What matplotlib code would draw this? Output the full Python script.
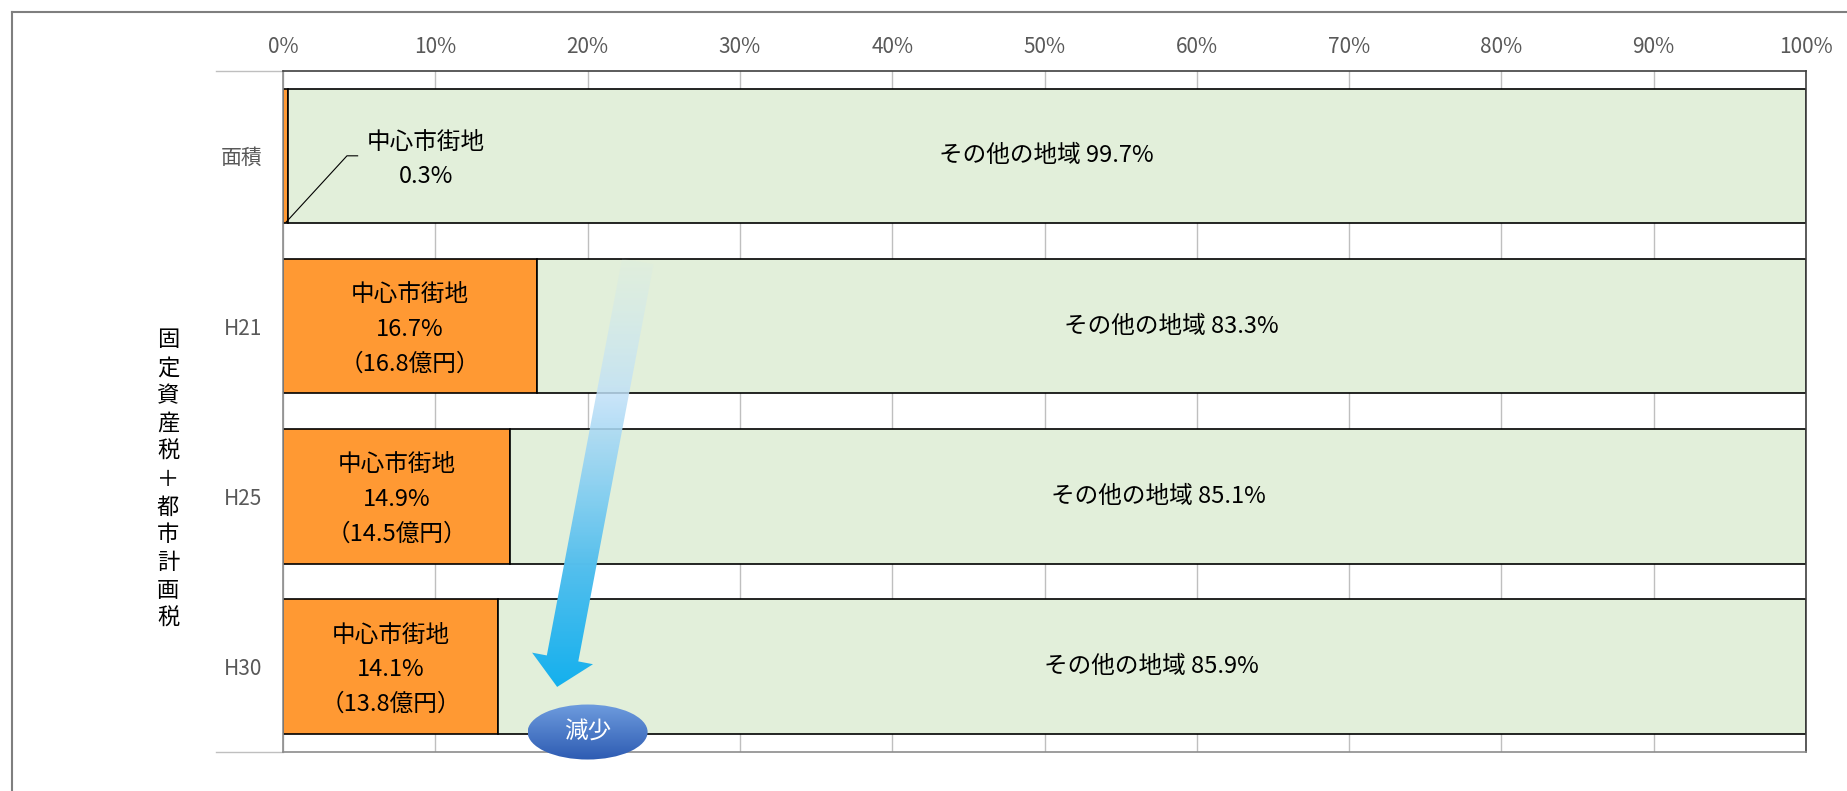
import numpy as np
import matplotlib.pyplot as plt
from matplotlib.lines import Line2D
from matplotlib.patches import Polygon, Ellipse

plt.rcParams['font.family'] = ['Noto Sans CJK JP', 'DejaVu Sans']
NUM_FONT = ['Liberation Sans Narrow', 'Noto Sans CJK JP', 'DejaVu Sans']

# data
categories = ['面積', 'H21', 'H25', 'H30']
center_share = [0.3, 16.7, 14.9, 14.1]      # 中心市街地 (%)
other_share = [99.7, 83.3, 85.1, 85.9]      # その他の地域 (%)
center_amount = [None, 16.8, 14.5, 13.8]    # 億円
group_label = '固定資産税＋都市計画税'
xticks = list(range(0, 101, 10))

W, H = 1847, 791
fig = plt.figure(figsize=(W / 100, H / 100), dpi=100)
ax = fig.add_axes([283 / W, 1 - 751.6 / H, (1806 - 283) / W, (751.6 - 70.7) / H])

y = np.arange(len(categories))
ax.barh(y, center_share, height=0.79, color='#FF9933', edgecolor='black', linewidth=1.2, zorder=2)
ax.barh(y, other_share, left=center_share, height=0.79, color='#E2EFDA',
        edgecolor='black', linewidth=1.2, zorder=2)

ax.set_xlim(0, 100)
ax.set_ylim(len(categories) - 0.5, -0.5)
ax.set_autoscale_on(False)
ax.xaxis.tick_top()
ax.set_xticks(xticks)
ax.set_xticklabels([f'{v}%' for v in xticks], family=NUM_FONT)
ax.set_yticks(y)
ax.set_yticklabels(categories, family=NUM_FONT)
ax.tick_params(axis='x', length=0, pad=9, labelsize=15, colors='#595959')
ax.tick_params(axis='y', length=0, pad=15, labelsize=15, colors='#595959')
ax.xaxis.grid(True, color='#BFBFBF', linewidth=1)
ax.set_axisbelow(True)
for side, col in [('top', '#404040'), ('right', '#404040'), ('left', '#8C8C8C'), ('bottom', '#8C8C8C')]:
    ax.spines[side].set_color(col)
    ax.spines[side].set_linewidth(1.2)

# category separators extending left
for yy in (-0.5, len(categories) - 0.5):
    ax.plot([-4.4, 0], [yy, yy], color='#BFBFBF', lw=1, clip_on=False)

# labels
lab = dict(ha='center', va='center', fontsize=17, family=NUM_FONT, zorder=5)
for i in range(len(categories)):
    ax.text(center_share[i] + other_share[i] / 2, i, f'その他の地域 {other_share[i]}%', **lab)
    if center_amount[i] is not None:
        ax.text(center_share[i] / 2, i + 0.02,
                f'中心市街地\n{center_share[i]}%\n（{center_amount[i]}億円）',
                linespacing=1.65, **lab)

ax.text(9.4, 0.02, f'中心市街地\n{center_share[0]}%', linespacing=1.6, **lab)
ax.plot([0.2, 4.2, 4.9], [0.39, 0.0, 0.0], color='black', lw=0.8, zorder=5)

ax.text(-7.55, 1.9, '\n'.join(group_label), ha='center', va='center',
        fontsize=16, linespacing=1.27, clip_on=False)

# outer frame
fig.add_artist(Line2D([12 / W, 12 / W], [0, 1 - 12 / H], color='#7F7F7F', lw=1.5))
fig.add_artist(Line2D([12 / W, 1], [1 - 12 / H, 1 - 12 / H], color='#7F7F7F', lw=1.5))

# overlay in pixel coordinates for the decorations
ov = fig.add_axes([0, 0, 1, 1])
ov.set_xlim(0, W)
ov.set_ylim(0, H)
ov.axis('off')
ov.patch.set_alpha(0)

# gradient arrow
ps = ax.transData.transform((23.3, 0.62))
pt = ax.transData.transform((18.0, 3.12))
u = (pt - ps) / np.hypot(*(pt - ps))
nrm = np.array([-u[1], u[0]])
hw, HW, hl = 16, 31, 29
base = pt - u * hl
verts = [ps + nrm * hw, base + nrm * hw, base + nrm * HW, pt,
         base - nrm * HW, base - nrm * hw, ps - nrm * hw]
arrow = Polygon(verts, closed=True, fc='none', ec='none')
ov.add_patch(arrow)
stops_t = [0.0, 0.32, 0.72, 1.0]
stops_c = [(0.80, 0.91, 0.96), (0.75, 0.88, 0.97), (0.33, 0.75, 0.93), (0.08, 0.69, 0.93)]
stops_a = [0.08, 0.85, 1.0, 1.0]
t = np.linspace(0, 1, 256)
grad = np.zeros((256, 1, 4))
for ch in range(3):
    grad[:, 0, ch] = np.interp(t, stops_t, [c[ch] for c in stops_c])
grad[:, 0, 3] = np.interp(t, stops_t, stops_a)
vx = [v[0] for v in verts]
vy = [v[1] for v in verts]
im = ov.imshow(grad, extent=(min(vx), max(vx), min(vy), max(vy)), origin='upper',
               aspect='auto', interpolation='bilinear', zorder=6)
im.set_clip_path(arrow)

# 減少 ellipse
ec = ax.transData.transform((20.0, 3.385))
ell = Ellipse(ec, 120, 55, fc='none', ec='none')
ov.add_patch(ell)
eg = np.zeros((64, 1, 3))
top = np.array([0.43, 0.61, 0.87])
bot = np.array([0.18, 0.36, 0.70])
for k in range(64):
    eg[k, 0] = top + (bot - top) * k / 63
im2 = ov.imshow(eg, extent=(ec[0] - 60, ec[0] + 60, ec[1] - 28, ec[1] + 28), origin='upper',
                aspect='auto', interpolation='bilinear', zorder=7)
im2.set_clip_path(ell)
ov.text(ec[0], ec[1], '減少', color='white', fontsize=17,
        ha='center', va='center', zorder=8)
ov.set_xlim(0, W)
ov.set_ylim(0, H)

fig.savefig('out.png', dpi=100)
